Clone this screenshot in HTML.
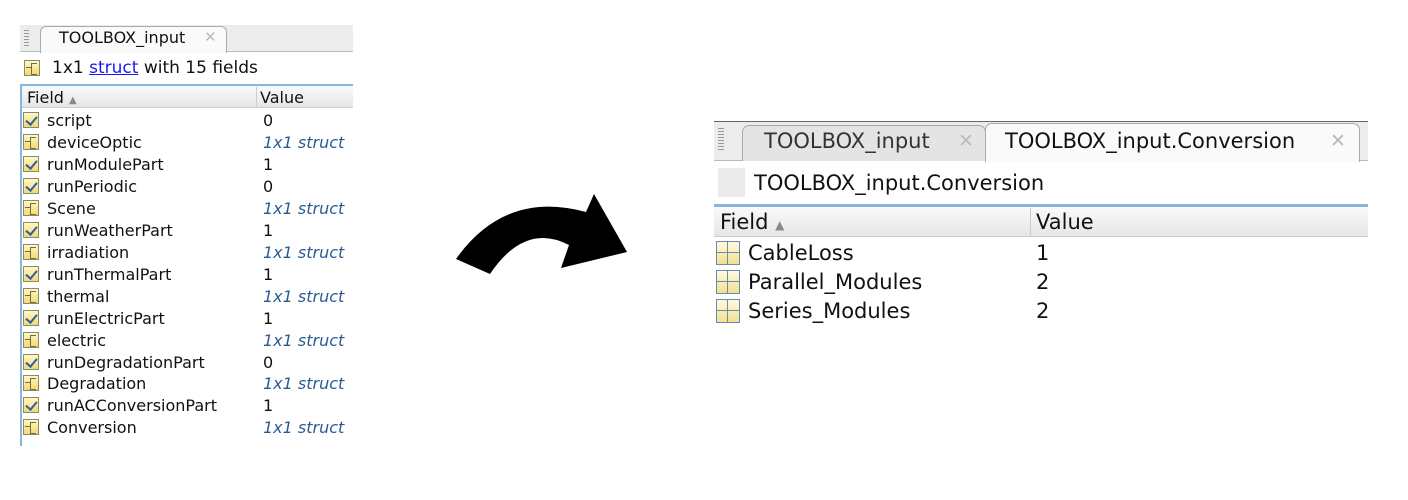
<!DOCTYPE html>
<html><head><meta charset="utf-8"><style>
body{margin:0;width:1408px;height:500px;background:#fff;position:relative;overflow:hidden;font-family:"DejaVu Sans",sans-serif;color:#111}
div{position:absolute;box-sizing:border-box}
.t{white-space:nowrap}
.ic{width:16px;height:16px;border:1px solid #8a8a6a;background:linear-gradient(#fff8c8,#f2d870)}
.chk::after{content:"";position:absolute;left:4px;top:1px;width:5px;height:9px;border:solid #3060a0;border-width:0 2px 2px 0;transform:rotate(40deg)}
.st::after{content:"";position:absolute;left:6px;top:2px;width:5px;height:10px;border:1px solid #7a6a40;border-right:none}
.st::before{content:"";position:absolute;left:1px;top:6px;width:5px;border-top:1px solid #7a6a40}
.v{color:#2a5a94;font-style:italic}
.g{width:24px;height:24px;border:1px solid #6a8ab0;background:linear-gradient(#fffbe0,#f4df8a)}
.g::before{content:"";position:absolute;left:10px;top:0;bottom:0;border-left:1px solid #6a8ab0}
.g::after{content:"";position:absolute;top:10px;left:0;right:0;border-top:1px solid #6a8ab0}
</style></head><body>
<!-- left panel -->
<div style="left:20px;top:25px;width:333px;height:27px;background:#ececec;border-bottom:1px solid #bbb"></div>
<div style="left:24px;top:30px;width:5px;height:18px;background:repeating-linear-gradient(#999 0 1px,transparent 1px 3px)"></div>
<div style="left:40px;top:26px;width:187px;height:27px;background:#fafafa;border:1px solid #aaa;border-bottom:none;border-radius:6px 6px 0 0"></div>
<div class="t" style="left:59px;top:28px;font-size:16px">TOOLBOX_input</div>
<div class="t" style="left:204px;top:28px;font-size:15px;color:#bbb">✕</div>
<div class="ic st" style="left:24px;top:60px"></div>
<div class="t" style="left:52px;top:58px;font-size:17px">1x1 <span style="color:#1a1aee;text-decoration:underline">struct</span> with 15 fields</div>
<div style="left:20px;top:84px;width:333px;height:2px;background:#8ab4dc"></div>
<div style="left:20px;top:84px;width:2px;height:362px;background:#8ab4dc"></div>
<div style="left:22px;top:86px;width:331px;height:22px;background:linear-gradient(#fafafa,#e6e6e6);border-bottom:1px solid #ccc"></div>
<div style="left:256px;top:87px;width:1px;height:21px;background:#ccc"></div>
<div class="t" style="left:27px;top:88px;font-size:16px">Field <span style="font-size:10px;color:#888">▲</span></div>
<div class="t" style="left:260px;top:88px;font-size:16px">Value</div>
<div style="left:0;top:110px;width:360px;height:330px;font-size:16px">
<div style="left:23px;top:2px" class="ic chk"></div><div class="t" style="left:47px;top:1px">script</div><div class="t" style="left:263px;top:1px">0</div>
<div style="left:23px;top:24px" class="ic st"></div><div class="t" style="left:47px;top:23px">deviceOptic</div><div class="t v" style="left:263px;top:23px">1x1 struct</div>
<div style="left:23px;top:46px" class="ic chk"></div><div class="t" style="left:47px;top:45px">runModulePart</div><div class="t" style="left:263px;top:45px">1</div>
<div style="left:23px;top:68px" class="ic chk"></div><div class="t" style="left:47px;top:67px">runPeriodic</div><div class="t" style="left:263px;top:67px">0</div>
<div style="left:23px;top:90px" class="ic st"></div><div class="t" style="left:47px;top:89px">Scene</div><div class="t v" style="left:263px;top:89px">1x1 struct</div>
<div style="left:23px;top:112px" class="ic chk"></div><div class="t" style="left:47px;top:111px">runWeatherPart</div><div class="t" style="left:263px;top:111px">1</div>
<div style="left:23px;top:134px" class="ic st"></div><div class="t" style="left:47px;top:133px">irradiation</div><div class="t v" style="left:263px;top:133px">1x1 struct</div>
<div style="left:23px;top:156px" class="ic chk"></div><div class="t" style="left:47px;top:155px">runThermalPart</div><div class="t" style="left:263px;top:155px">1</div>
<div style="left:23px;top:178px" class="ic st"></div><div class="t" style="left:47px;top:177px">thermal</div><div class="t v" style="left:263px;top:177px">1x1 struct</div>
<div style="left:23px;top:200px" class="ic chk"></div><div class="t" style="left:47px;top:199px">runElectricPart</div><div class="t" style="left:263px;top:199px">1</div>
<div style="left:23px;top:222px" class="ic st"></div><div class="t" style="left:47px;top:221px">electric</div><div class="t v" style="left:263px;top:221px">1x1 struct</div>
<div style="left:23px;top:244px" class="ic chk"></div><div class="t" style="left:47px;top:243px">runDegradationPart</div><div class="t" style="left:263px;top:243px">0</div>
<div style="left:23px;top:265px" class="ic st"></div><div class="t" style="left:47px;top:264px">Degradation</div><div class="t v" style="left:263px;top:264px">1x1 struct</div>
<div style="left:23px;top:287px" class="ic chk"></div><div class="t" style="left:47px;top:286px">runACConversionPart</div><div class="t" style="left:263px;top:286px">1</div>
<div style="left:23px;top:309px" class="ic st"></div><div class="t" style="left:47px;top:308px">Conversion</div><div class="t v" style="left:263px;top:308px">1x1 struct</div>
</div>
<!-- arrow -->
<svg style="position:absolute;left:0;top:0" width="1408" height="500"><path d="M456,259 Q505,190 586,212 L594,194 L627,252 L561,268 L569,245 Q525,222 490,274 Z" fill="#000"/></svg>
<!-- right panel -->
<div style="left:714px;top:121px;width:654px;height:40px;background:#ececec;border-top:1px solid #666;border-bottom:1px solid #bbb"></div>
<div style="left:718px;top:128px;width:6px;height:24px;background:repeating-linear-gradient(#999 0 1px,transparent 1px 3px)"></div>
<div style="left:742px;top:125px;width:244px;height:36px;background:#e4e4e4;border:1px solid #aaa;border-bottom:none;border-radius:7px 7px 0 0"></div>
<div class="t" style="left:764px;top:129px;font-size:21px;color:#333">TOOLBOX_input</div>
<div class="t" style="left:958px;top:130px;font-size:19px;color:#bbb">✕</div>
<div style="left:985px;top:123px;width:375px;height:39px;background:#fafafa;border:1px solid #aaa;border-bottom:none;border-radius:7px 7px 0 0"></div>
<div class="t" style="left:1005px;top:129px;font-size:21px">TOOLBOX_input.Conversion</div>
<div class="t" style="left:1330px;top:130px;font-size:19px;color:#bbb">✕</div>
<div style="left:718px;top:168px;width:27px;height:29px;background:#ebebeb"></div>
<div class="t" style="left:754px;top:171px;font-size:21px">TOOLBOX_input.Conversion</div>
<div style="left:714px;top:204px;width:654px;height:3px;background:#8ab4dc"></div>
<div style="left:714px;top:207px;width:654px;height:30px;background:linear-gradient(#fafafa,#e6e6e6);border-bottom:1px solid #ccc"></div>
<div style="left:1030px;top:208px;width:1px;height:29px;background:#ccc"></div>
<div class="t" style="left:720px;top:210px;font-size:21px">Field <span style="font-size:12px;color:#888">▲</span></div>
<div class="t" style="left:1036px;top:210px;font-size:21px">Value</div>
<div class="g" style="left:716px;top:241px"></div><div class="t" style="left:748px;top:241px;font-size:21px">CableLoss</div><div class="t" style="left:1036px;top:241px;font-size:21px">1</div>
<div class="g" style="left:716px;top:270px"></div><div class="t" style="left:748px;top:270px;font-size:21px">Parallel_Modules</div><div class="t" style="left:1036px;top:270px;font-size:21px">2</div>
<div class="g" style="left:716px;top:299px"></div><div class="t" style="left:748px;top:299px;font-size:21px">Series_Modules</div><div class="t" style="left:1036px;top:299px;font-size:21px">2</div>
</body></html>
